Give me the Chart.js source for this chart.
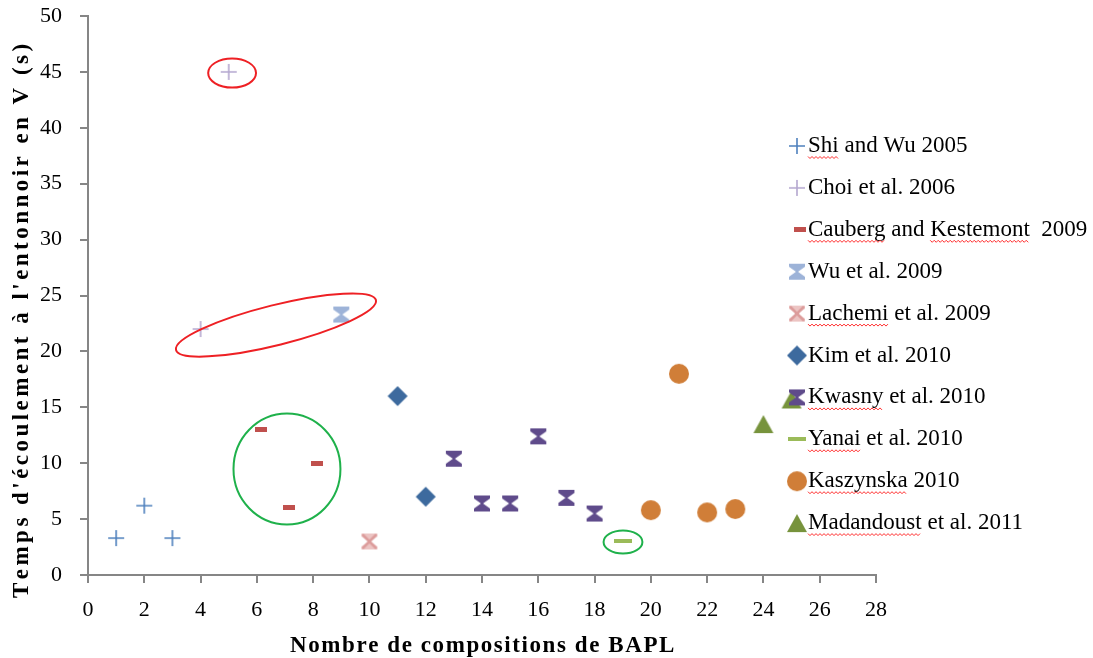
<!DOCTYPE html>
<html>
<head>
<meta charset="utf-8">
<script src="https://cdn.jsdelivr.net/npm/chart.js@4.4.1/dist/chart.umd.min.js"></script>
<style>
  html, body { margin: 0; padding: 0; background: #fff; }
</style>
</head>
<body>
<canvas id="chart" width="1093" height="658"></canvas>
<script>
// data
const seriesNames = ['Shi and Wu 2005', 'Choi et al. 2006', 'Cauberg and Kestemont  2009', 'Wu et al. 2009',
  'Lachemi et al. 2009', 'Kim et al. 2010', 'Kwasny et al. 2010', 'Yanai et al. 2010', 'Kaszynska 2010',
  'Madandoust et al. 2011'];
const shiX = [1, 2, 3], shiY = [3.3, 6.2, 3.3];
const choiX = [5, 4], choiY = [45, 22];
const caubergX = [6.15, 8.15, 7.15], caubergY = [13, 10, 6];
const wuX = [9], wuY = [23.3];
const lachemiX = [10], lachemiY = [3];
const kimX = [11, 12], kimY = [16, 7];
const kwasnyX = [13, 14, 15, 16, 17, 18], kwasnyY = [10.4, 6.4, 6.4, 12.4, 6.9, 5.5];
const yanaiX = [19], yanaiY = [3];
const kaszynskaX = [20, 21, 22, 23], kaszynskaY = [5.8, 18, 5.6, 5.9];
const madandoustX = [24, 25], madandoustY = [13.5, 15.7];

const xTickValues = [0, 2, 4, 6, 8, 10, 12, 14, 16, 18, 20, 22, 24, 26, 28];
const yTickValues = [0, 5, 10, 15, 20, 25, 30, 35, 40, 45, 50];

const xTitle = 'Nombre de compositions de BAPL';
const yTitle = "Temps d'écoulement à l'entonnoir en V (s)";

// words that carry the red spell-check squiggle in the legend
const squiggleWords = [['Shi'], [], ['Cauberg', 'Kestemont'], [], ['Lachemi'], [], ['Kwasny'], ['Yanai'],
  ['Kaszynska'], ['Madandoust']];

// hand-drawn ellipses (data units; rot in degrees)
const marks = [
  { cx: 5.12, cy: 44.9, rx: 0.85, ry: 1.3, rot: 0, color: '#ee2024' },
  { cx: 6.68, cy: 22.36, rx: 3.66, ry: 1.79, rot: -14, color: '#ee2024' },
  { cx: 7.07, cy: 9.48, rx: 1.9, ry: 4.96, rot: 0, color: '#1fb14b' },
  { cx: 19.01, cy: 2.95, rx: 0.69, ry: 1.03, rot: 0, color: '#1fb14b' }
];

const SERIF = '"Liberation Serif", "Times New Roman", serif';

function pts(xs, ys) {
  return xs.map((x, i) => ({ x: x, y: ys[i] }));
}

function makeCanvas(w, h, draw) {
  const c = document.createElement('canvas');
  c.width = w; c.height = h;
  draw(c.getContext('2d'), w, h);
  return c;
}

function plus(color) {
  return makeCanvas(18, 18, (ctx) => {
    ctx.strokeStyle = color; ctx.lineWidth = 1.6;
    ctx.beginPath();
    ctx.moveTo(1, 9); ctx.lineTo(17, 9);
    ctx.moveTo(9, 1); ctx.lineTo(9, 17);
    ctx.stroke();
  });
}

function dash(color, w, h) {
  return makeCanvas(w, h, (ctx) => { ctx.fillStyle = color; ctx.fillRect(0, 0, w, h); });
}

function hourglass(color, cross) {
  return makeCanvas(18, 18, (ctx) => {
    ctx.fillStyle = color;
    ctx.beginPath();
    ctx.moveTo(1, 1); ctx.lineTo(17, 1); ctx.lineTo(17, 4); ctx.lineTo(10, 9); ctx.lineTo(17, 14);
    ctx.lineTo(17, 17); ctx.lineTo(1, 17); ctx.lineTo(1, 14); ctx.lineTo(8, 9); ctx.lineTo(1, 4);
    ctx.closePath();
    ctx.fill();
    if (cross) {
      ctx.strokeStyle = cross; ctx.lineWidth = 2.5;
      ctx.beginPath();
      ctx.moveTo(2, 2); ctx.lineTo(16, 16);
      ctx.moveTo(16, 2); ctx.lineTo(2, 16);
      ctx.stroke();
    }
  });
}

function diamond(color) {
  return makeCanvas(22, 22, (ctx) => {
    ctx.fillStyle = color;
    ctx.beginPath();
    ctx.moveTo(11, 1); ctx.lineTo(21, 11); ctx.lineTo(11, 21); ctx.lineTo(1, 11);
    ctx.closePath(); ctx.fill();
  });
}

function circle(color) {
  return makeCanvas(22, 22, (ctx) => {
    ctx.fillStyle = color;
    ctx.beginPath(); ctx.arc(11, 11, 10, 0, Math.PI * 2); ctx.fill();
  });
}

function triangle(color) {
  return makeCanvas(22, 20, (ctx) => {
    ctx.fillStyle = color;
    ctx.beginPath();
    ctx.moveTo(11, 1); ctx.lineTo(21, 19); ctx.lineTo(1, 19);
    ctx.closePath(); ctx.fill();
  });
}

const markers = [
  plus('#4f81bd'),
  plus('#b4a7cf'),
  dash('#c0504d', 12, 5),
  hourglass('#9db3d8'),
  hourglass('#ecc4c3', '#dc9c9b'),
  diamond('#3d6a9e'),
  hourglass('#5f4b8b'),
  dash('#9bbb59', 18, 4),
  circle('#d07e38'),
  triangle('#77933c')
];

const seriesData = [
  pts(shiX, shiY), pts(choiX, choiY), pts(caubergX, caubergY), pts(wuX, wuY), pts(lachemiX, lachemiY),
  pts(kimX, kimY), pts(kwasnyX, kwasnyY), pts(yanaiX, yanaiY), pts(kaszynskaX, kaszynskaY),
  pts(madandoustX, madandoustY)
];

const datasets = seriesNames.map((name, i) => ({
  label: name,
  data: seriesData[i],
  pointStyle: markers[i],
  pointRadius: 10,
  showLine: false
}));

// draws the circles, the legend and the axis titles
const extras = {
  id: 'extras',
  afterDatasetsDraw(chart) {
    const ctx = chart.ctx;
    const xs = chart.scales.x, ys = chart.scales.y;
    const ux = (xs.getPixelForValue(1) - xs.getPixelForValue(0));
    const uy = (ys.getPixelForValue(0) - ys.getPixelForValue(1));
    ctx.save();
    marks.forEach(m => {
      ctx.strokeStyle = m.color;
      ctx.lineWidth = 2;
      ctx.beginPath();
      ctx.ellipse(xs.getPixelForValue(m.cx), ys.getPixelForValue(m.cy), m.rx * ux, m.ry * uy,
        m.rot * Math.PI / 180, 0, Math.PI * 2);
      ctx.stroke();
    });
    ctx.restore();
  },
  afterDraw(chart) {
    const ctx = chart.ctx;
    ctx.save();
    // legend
    ctx.font = '23px ' + SERIF;
    ctx.textBaseline = 'middle';
    ctx.textAlign = 'left';
    seriesNames.forEach((name, i) => {
      const y = 146 + i * 41.9;
      const img = markers[i];
      const mx = i === 2 ? 800 : 797;
      ctx.drawImage(img, mx - img.width / 2, y - img.height / 2);
      ctx.fillStyle = '#000';
      ctx.fillText(name, 808, y);
      squiggleWords[i].forEach(w => {
        const idx = name.indexOf(w);
        const x0 = 808 + ctx.measureText(name.slice(0, idx)).width;
        const x1 = x0 + ctx.measureText(w).width;
        ctx.strokeStyle = '#ff2a2a';
        ctx.lineWidth = 1;
        ctx.beginPath();
        for (let x = x0, k = 0; x <= x1; x += 2, k++) {
          const yy = y + 11 + (k % 2 ? 1.5 : -0.5);
          if (k === 0) ctx.moveTo(x, yy); else ctx.lineTo(x, yy);
        }
        ctx.stroke();
      });
    });
    // axis titles, spread out to the width they take in the picture
    ctx.font = 'bold 23px ' + SERIF;
    ctx.fillStyle = '#000';
    spacedText(ctx, xTitle, 290, 646, 384);
    ctx.translate(22, 598);
    ctx.rotate(-Math.PI / 2);
    spacedText(ctx, yTitle, 0, 0, 552);
    ctx.restore();
  }
};

function spacedText(ctx, text, x, y, length) {
  const natural = ctx.measureText(text).width;
  const gap = (length - natural) / (text.length - 1);
  ctx.textBaseline = 'middle';
  ctx.textAlign = 'left';
  let cx = x;
  for (const ch of text) {
    ctx.fillText(ch, cx, y);
    cx += ctx.measureText(ch).width + gap;
  }
}

const axisGrid = { drawOnChartArea: false, drawTicks: true, tickLength: 8, color: '#868686', lineWidth: 2 };
const axisBorder = { display: true, color: '#868686', width: 2 };

new Chart(document.getElementById('chart'), {
  type: 'scatter',
  data: { datasets: datasets },
  options: {
    responsive: false,
    animation: false,
    layout: { padding: { top: 16, right: 217, left: 0, bottom: 0 } },
    plugins: { legend: { display: false }, tooltip: { enabled: false } },
    scales: {
      x: {
        type: 'linear', min: 0, max: 28,
        afterBuildTicks: (s) => { s.ticks = xTickValues.map(v => ({ value: v })); },
        afterFit: (s) => { s.height = 83; s.paddingLeft = 0; s.paddingRight = 0; },
        ticks: { font: { family: SERIF, size: 22 }, color: '#000', padding: 14, maxRotation: 0 },
        grid: axisGrid, border: axisBorder
      },
      y: {
        type: 'linear', min: 0, max: 50,
        afterBuildTicks: (s) => { s.ticks = yTickValues.map(v => ({ value: v })); },
        afterFit: (s) => { s.width = 88; s.paddingTop = 0; s.paddingBottom = 0; },
        ticks: { font: { family: SERIF, size: 22 }, color: '#000', padding: 18 },
        grid: axisGrid, border: axisBorder
      }
    }
  },
  plugins: [extras]
});
</script>
</body>
</html>
